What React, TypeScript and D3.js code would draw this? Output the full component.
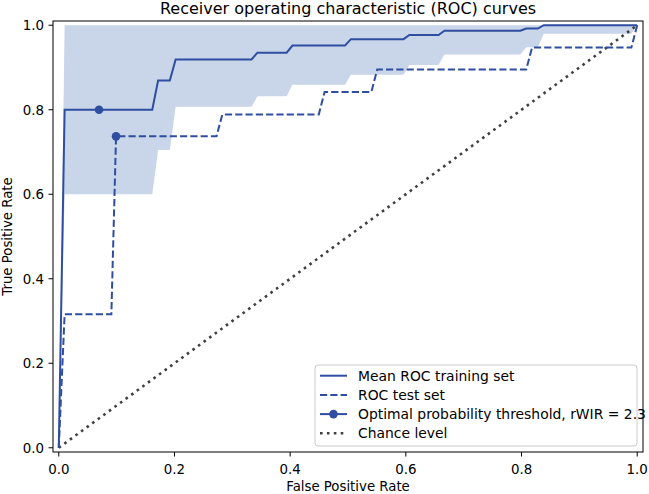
import React from 'react';
import * as d3 from 'd3';

// mean ROC of the training folds, sampled at the corners of its steps
const meanFpr = [0, 0.0101, 0.1616, 0.1717, 0.1919, 0.202, 0.3333, 0.3434, 0.3939, 0.404, 0.4949, 0.5051, 0.596, 0.6061, 0.6566, 0.6667, 0.798, 0.8081, 0.8283, 0.8384, 0.9899, 1.0];
const meanTpr = [0, 0.8, 0.8, 0.869, 0.869, 0.919, 0.919, 0.935, 0.935, 0.952, 0.952, 0.967, 0.967, 0.977, 0.977, 0.987, 0.987, 0.992, 0.992, 1.0, 1.0, 1.0];
// mean - 1 std (the upper edge is clipped at 1)
const lowerTpr = [0, 0.6, 0.6, 0.705, 0.705, 0.807, 0.807, 0.832, 0.832, 0.859, 0.859, 0.883, 0.883, 0.906, 0.906, 0.931, 0.931, 0.948, 0.948, 0.98, 0.98, 1.0];
const upperTpr = [0, 1, 1, 1, 1, 1, 1, 1, 1, 1, 1, 1, 1, 1, 1, 1, 1, 1, 1, 1, 1, 1];

// ROC of the test set
const testFpr = [0, 0.0101, 0.0909, 0.099, 0.2727, 0.2828, 0.4495, 0.4596, 0.5404, 0.5505, 0.8081, 0.8182, 0.9899, 1.0];
const testTpr = [0, 0.316, 0.316, 0.737, 0.737, 0.789, 0.789, 0.842, 0.842, 0.895, 0.895, 0.947, 0.947, 1.0];

// optimal thresholds (training, test)
const optFpr = [0.0696, 0.099];
const optTpr = [0.8, 0.737];

const chance = [0, 1];
const ticks = [0, 0.2, 0.4, 0.6, 0.8, 1.0];

const legendLabels = [
  'Mean ROC training set',
  'ROC test set',
  'Optimal probability threshold, rWIR = 2.3',
  'Chance level',
];

const W = 649;
const H = 494;
const margin = { top: 21, right: 6, bottom: 42, left: 53 };
const BLUE = '#2f4ea1';
const BAND = '#c9d5e9';
const FONT = 'DejaVu Sans, sans-serif';

export default function App() {
  const x = d3.scaleLinear().domain([-0.01, 1.01]).range([margin.left, W - margin.right]);
  const y = d3.scaleLinear().domain([-0.01, 1.01]).range([H - margin.bottom, margin.top]);

  const line = d3.line<[number, number]>().x((d) => x(d[0])).y((d) => y(d[1]));
  const area = d3
    .area<number>()
    .x((_, i) => x(meanFpr[i]))
    .y0((_, i) => y(lowerTpr[i]))
    .y1((_, i) => y(upperTpr[i]));

  const meanPts = meanFpr.map((f, i) => [f, meanTpr[i]] as [number, number]);
  const testPts = testFpr.map((f, i) => [f, testTpr[i]] as [number, number]);
  const chancePts = chance.map((v) => [v, v] as [number, number]);

  const x0 = margin.left;
  const x1 = W - margin.right;
  const y0 = H - margin.bottom;
  const y1 = margin.top;

  // legend box
  const lg = { x: 315, y: 365, w: 322, h: 81 };
  const rowY = (i: number) => lg.y + 10.7 + i * 19.2;

  return (
    <svg width={W} height={H} style={{ position: 'absolute', left: 0, top: 0 }} fontFamily={FONT}>
      <rect width={W} height={H} fill="#fff" />

      <defs>
        <clipPath id="plot">
          <rect x={x0} y={y1} width={x1 - x0} height={y0 - y1} />
        </clipPath>
      </defs>

      <g clipPath="url(#plot)">
        <path d={area(meanFpr) || ''} fill={BAND} />
        <path d={line(chancePts) || ''} fill="none" stroke="#404040" strokeWidth={2.6} strokeDasharray="2.6 4.3" />
        <path d={line(testPts) || ''} fill="none" stroke={BLUE} strokeWidth={2} strokeDasharray="7.2 3.1" />
        <path d={line(meanPts) || ''} fill="none" stroke={BLUE} strokeWidth={2} />
        {optFpr.map((f, i) => (
          <circle key={i} cx={x(f)} cy={y(optTpr[i])} r={4.3} fill={BLUE} />
        ))}
      </g>

      {/* frame */}
      <rect x={x0} y={y1} width={x1 - x0} height={y0 - y1} fill="none" stroke="#000" strokeWidth={1} />

      {/* x axis */}
      {ticks.map((t) => (
        <g key={'x' + t}>
          <line x1={x(t)} x2={x(t)} y1={y0} y2={y0 + 4.5} stroke="#000" strokeWidth={1} />
          <text x={x(t)} y={474} fontSize={13.4} textAnchor="middle">
            {t.toFixed(1)}
          </text>
        </g>
      ))}
      {/* y axis */}
      {ticks.map((t) => (
        <g key={'y' + t}>
          <line x1={x0 - 4.5} x2={x0} y1={y(t)} y2={y(t)} stroke="#000" strokeWidth={1} />
          <text x={44} y={y(t)} dy="0.36em" fontSize={13.4} textAnchor="end">
            {t.toFixed(1)}
          </text>
        </g>
      ))}

      <text x={(x0 + x1) / 2} y={491} fontSize={13.3} textAnchor="middle">
        False Positive Rate
      </text>
      <text transform={`translate(12,${(y0 + y1) / 2}) rotate(-90)`} fontSize={13.3} textAnchor="middle">
        True Positive Rate
      </text>
      <text x={(x0 + x1) / 2} y={13.5} fontSize={16} textAnchor="middle">
        Receiver operating characteristic (ROC) curves
      </text>

      {/* legend */}
      <rect x={lg.x} y={lg.y} width={lg.w} height={lg.h} rx={3} fill="#fff" fillOpacity={0.8} stroke="#cccccc" strokeWidth={1} />
      {legendLabels.map((label, i) => {
        const ly = rowY(i);
        const hx0 = lg.x + 5;
        const hx1 = lg.x + 32;
        return (
          <g key={label}>
            {i === 0 && <line x1={hx0} x2={hx1} y1={ly} y2={ly} stroke={BLUE} strokeWidth={2} />}
            {i === 1 && <line x1={hx0} x2={hx1} y1={ly} y2={ly} stroke={BLUE} strokeWidth={2} strokeDasharray="7.2 3.1" />}
            {i === 2 && (
              <g>
                <line x1={hx0} x2={hx1} y1={ly} y2={ly} stroke={BLUE} strokeWidth={2} />
                <circle cx={(hx0 + hx1) / 2} cy={ly} r={4.3} fill={BLUE} />
              </g>
            )}
            {i === 3 && <line x1={hx0} x2={hx1} y1={ly} y2={ly} stroke="#404040" strokeWidth={2.6} strokeDasharray="2.6 4.3" />}
            <text x={lg.x + 43} y={ly} dy="0.36em" fontSize={13.9}>
              {label}
            </text>
          </g>
        );
      })}
    </svg>
  );
}
